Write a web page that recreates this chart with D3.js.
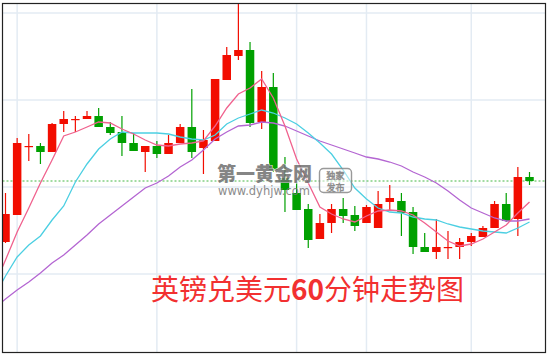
<!DOCTYPE html>
<html>
<head>
<meta charset="utf-8">
<script src="https://cdn.jsdelivr.net/npm/d3@7"></script>
<style>
  html, body { margin: 0; padding: 0; background: #fff; }
  svg { display: block; }
</style>
</head>
<body>
<script>
// GBP/USD hourly candles (one per hour)
var opens  = [1.2358, 1.2385, 1.2453, 1.2454, 1.2448, 1.2476, 1.24805, 1.2481, 1.2484, 1.2473,
              1.2468, 1.2457, 1.2448, 1.2454, 1.2446, 1.2457, 1.2473, 1.2452, 1.2459, 1.2520,
              1.2544, 1.2550, 1.2478, 1.2513, 1.2422, 1.2407, 1.2391, 1.2361, 1.2377, 1.2391,
              1.2385, 1.2377, 1.2372, 1.2398, 1.2399, 1.2388, 1.2353, 1.2348, 1.23525, 1.2353,
              1.2358, 1.2363, 1.2372, 1.2396, 1.2381, 1.2423];
var highs  = [1.2407, 1.2462, 1.2466, 1.2457, 1.2477, 1.2489, 1.2484, 1.2489, 1.2492, 1.2478,
              1.2484, 1.2467, 1.2454, 1.2459, 1.2465, 1.2476, 1.2511, 1.2470, 1.2521, 1.2553,
              1.2597, 1.2558, 1.2529, 1.2527, 1.2443, 1.2417, 1.2396, 1.2386, 1.2396, 1.2402,
              1.2394, 1.2395, 1.2409, 1.2415, 1.2407, 1.2393, 1.2367, 1.2381, 1.2369, 1.2362,
              1.2367, 1.2374, 1.2399, 1.2407, 1.2433, 1.2428];
var lows   = [1.2357, 1.2385, 1.2439, 1.2436, 1.2448, 1.2468, 1.2468, 1.2481, 1.2473, 1.2465,
              1.2444, 1.2449, 1.2428, 1.2442, 1.2446, 1.2457, 1.2442, 1.2426, 1.2459, 1.2520,
              1.2540, 1.2473, 1.2471, 1.2428, 1.2388, 1.2390, 1.2352, 1.2361, 1.2367, 1.2377,
              1.2369, 1.2377, 1.2372, 1.2390, 1.2364, 1.2346, 1.2348, 1.2341, 1.2341, 1.2341,
              1.2354, 1.2363, 1.2372, 1.2378, 1.2364, 1.2415];
var closes = [1.2386, 1.2457, 1.2454, 1.2448, 1.2476, 1.2481, 1.2481, 1.2484, 1.2473, 1.2467,
              1.2457, 1.2449, 1.2454, 1.2446, 1.2457, 1.2473, 1.2448, 1.2460, 1.2521, 1.2545,
              1.2550, 1.2477, 1.2513, 1.2430, 1.2410, 1.2390, 1.2360, 1.2377, 1.2391, 1.2384,
              1.2374, 1.2393, 1.2396, 1.2402, 1.2387, 1.2353, 1.2348, 1.2353, 1.2353, 1.2358,
              1.2364, 1.2372, 1.2396, 1.2379, 1.2423, 1.2419];

// moving averages, first value belongs to the hour before the first candle (off the left edge)
var ma5  = [1.2313, 1.2340, 1.2368, 1.2392, 1.2417, 1.2440, 1.2464, 1.2468, 1.2473, 1.2478,
            1.2477, 1.2471, 1.2466, 1.2460, 1.2455, 1.2454, 1.2456, 1.2457, 1.2459, 1.2474,
            1.2492, 1.2506, 1.2512, 1.2521, 1.2502, 1.2474, 1.2441, 1.2417, 1.2393, 1.2386,
            1.2381, 1.2378, 1.2384, 1.2389, 1.2390, 1.2389, 1.2385, 1.2377, 1.2368, 1.2359,
            1.2354, 1.2356, 1.2361, 1.2368, 1.2375, 1.2387, 1.2398];
var ma10 = [1.2303, 1.2324, 1.2343, 1.2355, 1.2364, 1.2380, 1.2394, 1.2418, 1.2436, 1.2451,
            1.2461, 1.2468, 1.2467, 1.2467, 1.2467, 1.2466, 1.2463, 1.2461, 1.2460, 1.2465,
            1.2476, 1.2482, 1.2486, 1.2490, 1.2487, 1.2482, 1.2476, 1.2467, 1.2457, 1.2446,
            1.2430, 1.2412, 1.2401, 1.2392, 1.2388, 1.2387, 1.2383, 1.2381, 1.2380, 1.2376,
            1.2373, 1.2371, 1.2369, 1.2368, 1.2367, 1.2372, 1.2378];
var ma20 = [1.2291, 1.2301, 1.2310, 1.2318, 1.2327, 1.2337, 1.2345, 1.2355, 1.2365, 1.2376,
            1.2385, 1.2394, 1.2403, 1.2412, 1.2417, 1.2424, 1.2433, 1.2440, 1.2450, 1.2461,
            1.2468, 1.2474, 1.2475, 1.2478, 1.2477, 1.2474, 1.2469, 1.2464, 1.2459, 1.2455,
            1.2451, 1.2447, 1.2443, 1.2441, 1.2438, 1.2434, 1.2428, 1.2423, 1.2417, 1.2409,
            1.2400, 1.2392, 1.2387, 1.2382, 1.2379, 1.2379, 1.2381];

var priceTicks = [1.2587, 1.2500, 1.2413, 1.2326];
var timeTicks = [1, 13, 25, 31, 40];   // candle index of each vertical grid line

var width = 550, height = 355;
var frame = { left: 2.5, top: 3.5, right: 545.5, bottom: 352.5 };

var svg = d3.select("body").append("svg")
            .attr("width", width)
            .attr("height", height);

var x = d3.scaleLinear().domain([0, 45]).range([5.5, 529.5]);
var y = d3.scaleLinear().domain([1.2600, 1.2250]).range([0, 350]);
var bodyW = 8.5;

svg.append("clipPath").attr("id", "plotclip")
   .append("rect")
   .attr("x", frame.left).attr("y", frame.top)
   .attr("width", frame.right - frame.left).attr("height", frame.bottom - frame.top);

var plot = svg.append("g").attr("clip-path", "url(#plotclip)");

// grid
plot.selectAll("line.hgrid")
    .data(priceTicks)
    .enter()
    .append("line")
    .attr("x1", frame.left).attr("x2", frame.right)
    .attr("y1", function(d) { return y(d); })
    .attr("y2", function(d) { return y(d); })
    .attr("stroke", "#e3ebf3")
    .attr("stroke-width", 1.5);

plot.selectAll("line.vgrid")
    .data(timeTicks)
    .enter()
    .append("line")
    .attr("y1", frame.top).attr("y2", frame.bottom)
    .attr("x1", function(d) { return x(d); })
    .attr("x2", function(d) { return x(d); })
    .attr("stroke", "#e3ebf3")
    .attr("stroke-width", 1.5);

// last price line
var last = closes[closes.length - 1];
plot.append("line")
    .attr("x1", frame.left).attr("x2", frame.right)
    .attr("y1", y(last)).attr("y2", y(last))
    .attr("stroke", "#44b844")
    .attr("stroke-width", 1)
    .attr("stroke-dasharray", "2,2");

var candles = opens.map(function(o, i) {
    return { i: i, o: o, h: highs[i], l: lows[i], c: closes[i] };
});

function color(d) {
    return d.c >= d.o ? "#f20d00" : "#00a000";
}

plot.selectAll("line.wick")
    .data(candles)
    .enter()
    .append("line")
    .attr("x1", function(d) { return x(d.i); })
    .attr("x2", function(d) { return x(d.i); })
    .attr("y1", function(d) { return y(d.h); })
    .attr("y2", function(d) { return y(d.l); })
    .attr("stroke", color)
    .attr("stroke-width", 1.2);

plot.selectAll("rect.body")
    .data(candles)
    .enter()
    .append("rect")
    .attr("x", function(d) { return x(d.i) - bodyW / 2; })
    .attr("width", bodyW)
    .attr("y", function(d) { return y(Math.max(d.o, d.c)); })
    .attr("height", function(d) {
        return Math.max(1.2, Math.abs(y(d.o) - y(d.c)));
    })
    .attr("fill", color);

// moving averages
var maLine = d3.line()
               .x(function(d, i) { return x(i - 1); })
               .y(function(d) { return y(d); });

var maSeries = [
    { values: ma20, stroke: "#b466d2" },
    { values: ma10, stroke: "#4ccfe2" },
    { values: ma5,  stroke: "#f0628e" }
];

plot.selectAll("path.ma")
    .data(maSeries)
    .enter()
    .append("path")
    .attr("d", function(d) { return maLine(d.values); })
    .attr("fill", "none")
    .attr("stroke", function(d) { return d.stroke; })
    .attr("stroke-width", 1.3);

// watermark
var wm = svg.append("g").attr("opacity", 0.85);
wm.append("text")
  .attr("x", 217).attr("y", 180.5)
  .attr("font-family", "Noto Sans CJK SC")
  .attr("font-weight", 900)
  .attr("font-size", 19)
  .attr("fill", "#707070")
  .attr("stroke", "#fff")
  .attr("stroke-width", 1.2)
  .attr("paint-order", "stroke")
  .text("第一黄金网");
wm.append("rect")
  .attr("x", 319.5).attr("y", 168.5)
  .attr("width", 32).attr("height", 24)
  .attr("rx", 4)
  .attr("fill", "rgba(255,255,255,0.6)")
  .attr("stroke", "#888")
  .attr("stroke-width", 1.4);
wm.selectAll("text.tag")
  .data(["独家", "发布"])
  .enter()
  .append("text")
  .attr("x", 335.5)
  .attr("y", function(d, i) { return 179 + i * 11.5; })
  .attr("text-anchor", "middle")
  .attr("font-family", "Noto Sans CJK SC")
  .attr("font-size", 9)
  .attr("fill", "#e6e6e6")
  .attr("stroke", "#7a7a7a")
  .attr("stroke-width", 0.6)
  .text(function(d) { return d; });
wm.append("text")
  .attr("x", 218).attr("y", 195)
  .attr("font-family", "DejaVu Sans")
  .attr("font-size", 11.5)
  .attr("fill", "#777")
  .text("www.dyhjw.com");

// title
var title = svg.append("text")
               .attr("x", 151).attr("y", 300)
               .attr("font-family", "Noto Sans CJK SC")
               .attr("font-size", 28)
               .attr("fill", "#f23030");
title.append("tspan").text("英镑兑美元");
title.append("tspan").attr("font-weight", "bold").text("60");
title.append("tspan").text("分钟走势图");

// border
svg.append("rect")
   .attr("x", frame.left).attr("y", frame.top)
   .attr("width", frame.right - frame.left).attr("height", frame.bottom - frame.top)
   .attr("fill", "none")
   .attr("stroke", "#222")
   .attr("stroke-width", 1.2);
</script>
</body>
</html>
